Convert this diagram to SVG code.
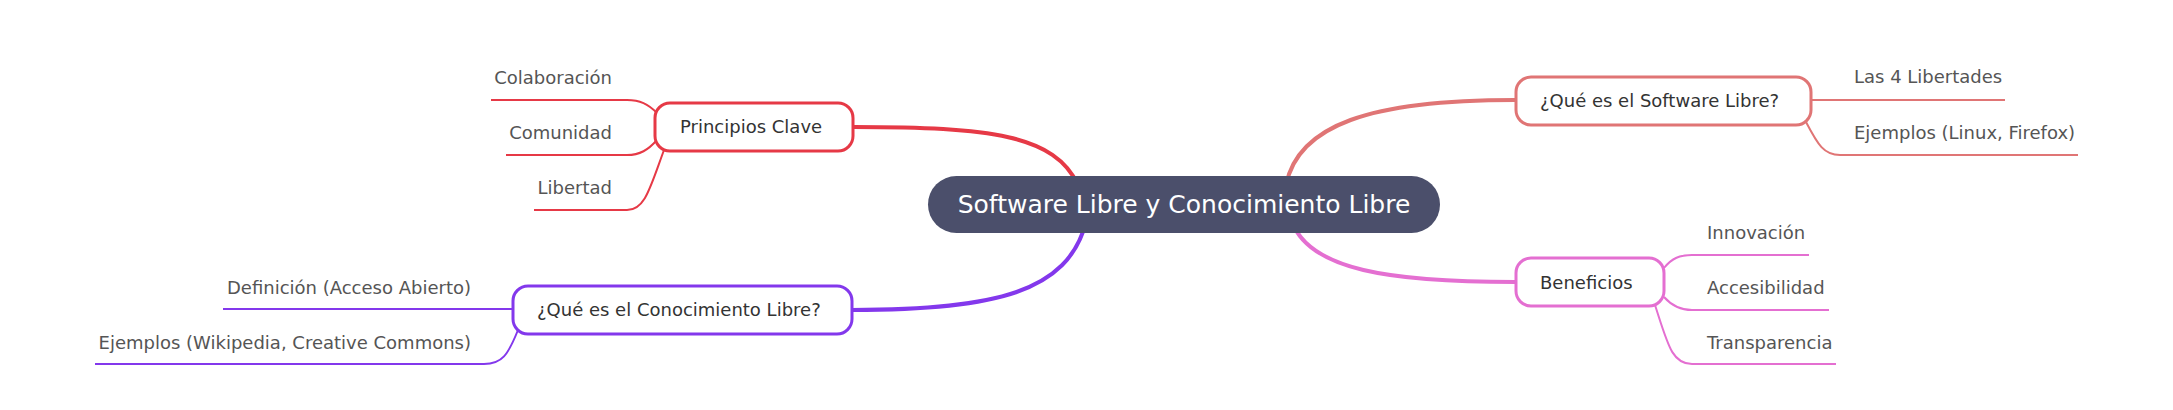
<svg xmlns="http://www.w3.org/2000/svg" width="2173" height="410" viewBox="0 0 2173 410">
<style>
  .lbl { font-family: "DejaVu Sans", "Liberation Sans", sans-serif; font-size: 18px; }
  .branch { fill: #333333; }
  .leaf { fill: #555555; }
  .root { font-family: "DejaVu Sans", "Liberation Sans", sans-serif; font-size: 25px; fill: #ffffff; }
  .main { fill: none; stroke-width: 4; stroke-linecap: round; }
  .sub { fill: none; stroke-width: 2; }
  .box { fill: #ffffff; stroke-width: 3; }
  .red { stroke: #e63946; }
  .salmon { stroke: #e07575; }
  .purple { stroke: #8338ec; }
  .pink { stroke: #e46fd1; }
</style>
<rect width="2173" height="410" fill="#ffffff"/>
<g id="connectors">
  <path class="main red" d="M854,127 C990,127 1055,135 1078,185"/>
  <path class="main salmon" d="M1515,100 C1370,100 1298,125 1286,185"/>
  <path class="main purple" d="M852,310 C995,310 1068,292 1086,222"/>
  <path class="main pink" d="M1292,222 C1310,270 1390,282 1515,282"/>
  <path class="sub red" d="M657,113 C648,104 640,100 627,100 H491"/>
  <path class="sub red" d="M657,140 C648,150 640,155 627,155 H506"/>
  <path class="sub red" d="M664,150 C650,188 645,210 627,210 H534"/>
  <path class="sub purple" d="M512,309 H223"/>
  <path class="sub purple" d="M518,330 C508,355 502,364 484,364 H95"/>
  <path class="sub salmon" d="M1812,100 H2005"/>
  <path class="sub salmon" d="M1806,122 C1818,145 1824,155 1840,155 H2078"/>
  <path class="sub pink" d="M1664,268 C1672,258 1680,255 1692,255 H1809"/>
  <path class="sub pink" d="M1664,297 C1672,306 1680,310 1692,310 H1829"/>
  <path class="sub pink" d="M1655,305 C1668,345 1672,364 1692,364 H1836"/>
</g>
<g id="root">
  <rect x="928" y="176" width="512" height="57" rx="28.5" fill="#4b4f6b"/>
  <text class="root" x="1184" y="213" text-anchor="middle">Software Libre y Conocimiento Libre</text>
</g>
<g id="principios">
  <rect class="box red" x="655" y="103" width="198" height="48" rx="15"/>
  <text class="lbl branch" x="680" y="133">Principios Clave</text>
</g>
<g id="colaboracion"><text class="lbl leaf" x="612" y="84" text-anchor="end">Colaboración</text></g>
<g id="comunidad"><text class="lbl leaf" x="612" y="139" text-anchor="end">Comunidad</text></g>
<g id="libertad"><text class="lbl leaf" x="612" y="194" text-anchor="end">Libertad</text></g>
<g id="conocimiento">
  <rect class="box purple" x="513" y="286" width="339" height="48" rx="15"/>
  <text class="lbl branch" x="537" y="316">¿Qué es el Conocimiento Libre?</text>
</g>
<g id="definicion"><text class="lbl leaf" x="471" y="294" text-anchor="end">Definición (Acceso Abierto)</text></g>
<g id="ejemplos-conocimiento"><text class="lbl leaf" x="471" y="349" text-anchor="end">Ejemplos (Wikipedia, Creative Commons)</text></g>
<g id="software">
  <rect class="box salmon" x="1516" y="77" width="295" height="48" rx="15"/>
  <text class="lbl branch" x="1540" y="107">¿Qué es el Software Libre?</text>
</g>
<g id="libertades"><text class="lbl leaf" x="1854" y="83">Las 4 Libertades</text></g>
<g id="ejemplos-software"><text class="lbl leaf" x="1854" y="139">Ejemplos (Linux, Firefox)</text></g>
<g id="beneficios">
  <rect class="box pink" x="1516" y="258" width="148" height="48" rx="15"/>
  <text class="lbl branch" x="1540" y="289">Beneficios</text>
</g>
<g id="innovacion"><text class="lbl leaf" x="1707" y="239">Innovación</text></g>
<g id="accesibilidad"><text class="lbl leaf" x="1707" y="294">Accesibilidad</text></g>
<g id="transparencia"><text class="lbl leaf" x="1707" y="349">Transparencia</text></g>
</svg>
